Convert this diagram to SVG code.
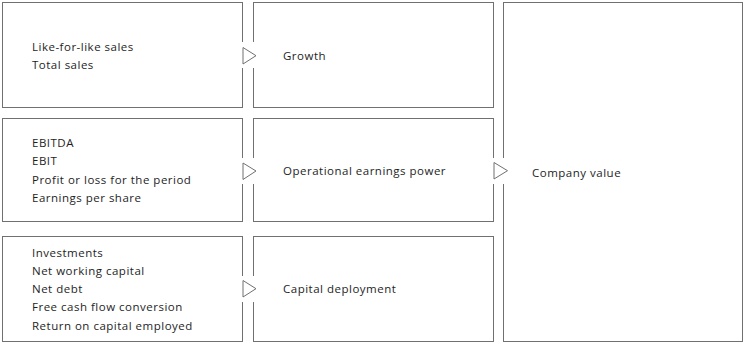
<svg xmlns="http://www.w3.org/2000/svg" width="745" height="344" viewBox="0 0 745 344">
<style>
.box{fill:#fff;stroke:#707070;stroke-width:1}
.t{font-family:"Open Sans","Liberation Sans",sans-serif;font-size:11.5px;fill:#1e1e1e;letter-spacing:0.5px}
.arr{fill:#fff;stroke:#707070;stroke-width:1;stroke-linejoin:miter}
</style>
<rect width="745" height="344" fill="#fff"/>
<g id="kpi-growth">
<rect class="box" x="2.5" y="2.5" width="240" height="105"/>
<text class="t" x="32" y="51">Like-for-like sales</text>
<text class="t" x="32" y="69">Total sales</text>
</g>
<g id="kpi-earnings">
<rect class="box" x="2.5" y="118.5" width="240" height="103"/>
<text class="t" x="32" y="147">EBITDA</text>
<text class="t" x="32" y="165">EBIT</text>
<text class="t" x="32" y="184">Profit or loss for the period</text>
<text class="t" x="32" y="202">Earnings per share</text>
</g>
<g id="kpi-capital">
<rect class="box" x="2.5" y="236.5" width="240" height="105"/>
<text class="t" x="32" y="257">Investments</text>
<text class="t" x="32" y="275">Net working capital</text>
<text class="t" x="32" y="293">Net debt</text>
<text class="t" x="32" y="311">Free cash flow conversion</text>
<text class="t" x="32" y="330">Return on capital employed</text>
</g>
<g id="growth">
<rect class="box" x="253.5" y="2.5" width="240" height="105"/>
<text class="t" x="283" y="60">Growth</text>
</g>
<g id="earnings-power">
<rect class="box" x="253.5" y="118.5" width="240" height="103"/>
<text class="t" x="283" y="175">Operational earnings power</text>
</g>
<g id="capital-deployment">
<rect class="box" x="253.5" y="236.5" width="240" height="105"/>
<text class="t" x="283" y="293">Capital deployment</text>
</g>
<g id="company-value">
<rect class="box" x="503.5" y="2.5" width="239" height="339"/>
<text class="t" x="532" y="177">Company value</text>
</g>
<g id="connectors">
<rect x="241" y="42" width="14" height="26" fill="#fff"/>
<polygon class="arr" points="243,47.5 243,64 256,55.7"/>
<rect x="241" y="158" width="14" height="26" fill="#fff"/>
<polygon class="arr" points="243,163 243,179.5 256,171"/>
<rect x="241" y="276" width="14" height="26" fill="#fff"/>
<polygon class="arr" points="243,280.5 243,297 256,288.7"/>
<rect x="492" y="158" width="14" height="26" fill="#fff"/>
<polygon class="arr" points="494,162.5 494,179 507.5,170.7"/>
</g>
</svg>
